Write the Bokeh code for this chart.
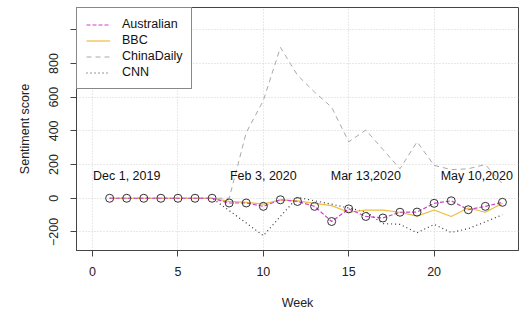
from bokeh.plotting import figure
from bokeh.models import FixedTicker, Legend, LegendItem, ColumnDataSource
from bokeh.core.properties import value
from bokeh.embed import file_html
from bokeh.resources import INLINE

weeks = list(range(1, 25))
australian = [0, 0, 0, 0, 0, 0, 0, -28, -28, -48, -9, -19, -48, -138, -63, -108, -117, -83, -82, -30, -15, -68, -48, -24]
bbc = [0, 0, 0, 0, 0, 0, 0, -19, -24, -35, -10, -15, -30, -44, -83, -70, -70, -83, -106, -70, -108, -58, -83, -30]
chinadaily = [0, 0, 0, 0, 0, 0, 0, 0, 390, 580, 895, 730, 630, 540, 335, 405, 290, 175, 335, 195, 170, 175, 200, 85]
cnn = [0, 0, 0, 0, 0, 0, 0, -73, -147, -222, -108, 5, -15, -35, -58, -80, -150, -155, -205, -155, -203, -180, -140, -98]

ann_x = [2, 10, 16, 22.5]
ann_y = [130, 130, 130, 130]
ann_labels = ["Dec 1, 2019", "Feb 3, 2020", "Mar 13,2020", "May 10,2020"]

x_ticks = [0, 5, 10, 15, 20]
y_ticks = [-200, 0, 200, 400, 600, 800, 1000]

FONT = "Liberation Sans"
FS = "12.5px"

p = figure(width=522, height=316, output_backend="svg", toolbar_location=None,
           x_range=(-0.94, 24.94), y_range=(-310, 1132),
           min_border_left=76, min_border_right=4, min_border_top=7, min_border_bottom=66)
p.background_fill_color = "white"
p.border_fill_color = "white"
p.outline_line_color = "#444444"
p.outline_line_width = 1

for ax in (p.xaxis[0], p.yaxis[0]):
    ax.axis_line_color = "#444444"
    ax.major_tick_line_color = "#444444"
    ax.major_tick_out = 6
    ax.major_tick_in = 0
    ax.minor_tick_line_color = None
    ax.major_label_text_font = FONT
    ax.major_label_text_font_size = FS
    ax.major_label_text_color = "#222222"
    ax.axis_label_text_font = FONT
    ax.axis_label_text_font_size = FS
    ax.axis_label_text_font_style = "normal"
    ax.axis_label_text_color = "#222222"

p.xaxis.ticker = FixedTicker(ticks=x_ticks)
p.yaxis.ticker = FixedTicker(ticks=y_ticks)
p.yaxis.major_label_overrides = {1000: ""}
p.yaxis.major_label_orientation = "vertical"
p.xaxis.axis_label = "Week"
p.yaxis.axis_label = "Sentiment score"
p.xaxis.major_label_standoff = 10
p.xaxis.axis_label_standoff = 17
p.yaxis.major_label_standoff = 12
p.yaxis.axis_label_standoff = 15

p.xgrid.ticker = FixedTicker(ticks=x_ticks)
p.ygrid.ticker = FixedTicker(ticks=y_ticks)
for g in (p.xgrid[0], p.ygrid[0]):
    g.grid_line_color = "#d3d3d3"
    g.grid_line_dash = "1 2"
    g.grid_line_width = 1

src = ColumnDataSource(dict(week=weeks, aus=australian, bbc=bbc, cd=chinadaily, cnn=cnn))

r_cd = p.line("week", "cd", source=src, line_color="#a8a8a8", line_dash="5 4", line_width=1)
r_cnn = p.line("week", "cnn", source=src, line_color="#333333", line_dash="1 3", line_width=1.2)
r_bbc = p.line("week", "bbc", source=src, line_color="#eebd3e", line_width=1.2)
r_aus = p.line("week", "aus", source=src, line_color="#d040d0", line_dash="4 2", line_width=1.2)
p.scatter("week", "aus", source=src, size=8, marker="circle", fill_color=None,
          line_color="#333333", line_width=1)

asrc = ColumnDataSource(dict(x=ann_x, y=ann_y, t=ann_labels))
p.text("x", "y", text="t", source=asrc, text_font=value(FONT), text_font_size=value("12.5px"),
       text_color="#111111", text_align="center", text_baseline="middle")

legend = Legend(items=[
    LegendItem(label="Australian", renderers=[r_aus]),
    LegendItem(label="BBC", renderers=[r_bbc]),
    LegendItem(label="ChinaDaily", renderers=[r_cd]),
    LegendItem(label="CNN", renderers=[r_cnn]),
], location="top_left")
legend.margin = 0
legend.padding = 9
legend.spacing = 2
legend.glyph_height = 13
legend.label_height = 13
legend.glyph_width = 24
legend.label_standoff = 12
legend.label_text_font = FONT
legend.label_text_font_size = FS
legend.label_text_color = "#111111"
legend.border_line_color = "#111111"
legend.border_line_width = 1
legend.background_fill_color = "white"
legend.background_fill_alpha = 1
p.add_layout(legend)

open("out.html", "w").write(file_html(p, INLINE))
